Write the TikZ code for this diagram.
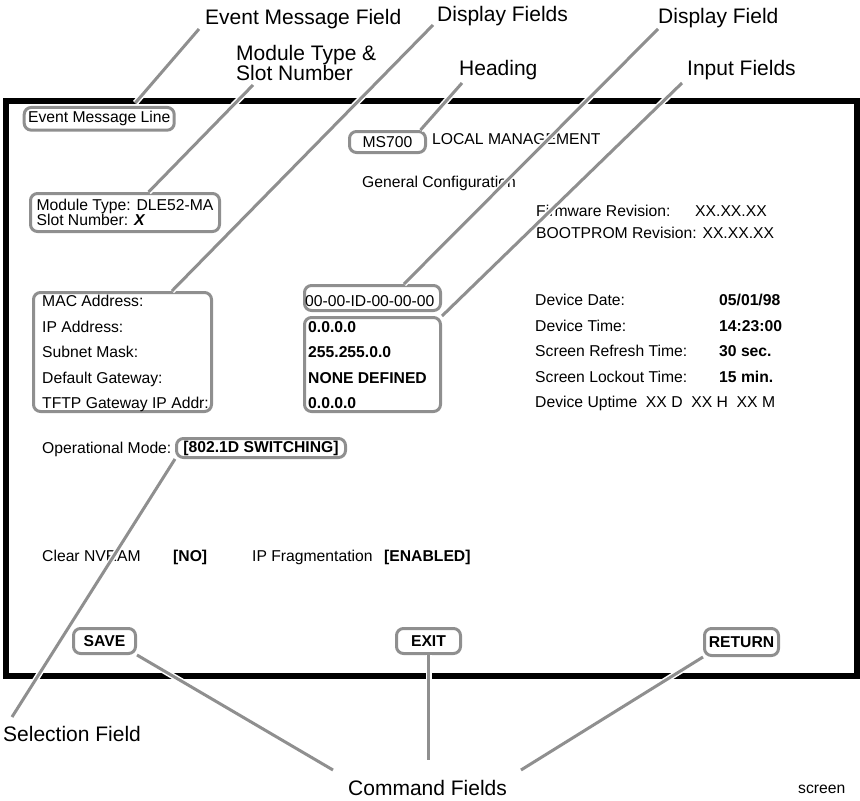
\documentclass[tikz,border=0pt]{standalone}
\usepackage{fontspec}
\setmainfont{Liberation Sans}
\usepackage{tikz}
\usetikzlibrary{positioning}
\definecolor{leadgray}{gray}{0.56}
\newcommand{\scrfont}{\fontsize{15.7}{14}\selectfont}
\newcommand{\tagfont}{\fontsize{21}{20}\selectfont}
\tikzstyle{leader}  =[draw=leadgray, line width=3pt,
                      preaction={draw=white, line width=6pt}]
\tikzstyle{fieldbox}=[draw=leadgray, line width=3pt, rounded corners=7pt,
                      inner sep=0pt, font=\scrfont]
\tikzstyle{scrtext} =[anchor=base west, inner sep=0pt, font=\scrfont]
\tikzstyle{valtext} =[anchor=base west, inner sep=0pt, font=\scrfont\bfseries]
\tikzstyle{tagtext} =[anchor=base west, inner sep=0pt, font=\tagfont]

\begin{document}
\begin{tikzpicture}[x=1pt, y=-1pt]
    \useasboundingbox (0,0) rectangle (860,801);
    % screen frame
    \draw[line width=6pt] (5.5,101) rectangle (857,676);

    % fields on the screen
    \node[fieldbox, minimum width=150pt, minimum height=22.7pt] (evtline) at (99.2,118.8) {Event Message Line};
    \node[fieldbox, minimum width=76pt, minimum height=21pt] (msbox) at (387.5,142) {MS700};
    \node[fieldbox, minimum width=189pt, minimum height=38pt, align=left] (modbox) at (125,212.5)
        {Module Type: DLE52-MA\\Slot Number: \textbf{\textit{X}}};
    \node[fieldbox, minimum width=178pt, minimum height=119pt] (macbox) at (122.5,352) {};
    \node[fieldbox, minimum width=136pt, minimum height=25pt] (macval) at (372.5,298) {};
    \node[fieldbox, minimum width=136pt, minimum height=94pt] (inbox) at (372.5,364.5) {};
    \node[fieldbox, minimum width=169pt, minimum height=19pt, font=\scrfont\bfseries] (opbox) at (261,448) {[802.1D SWITCHING]};
    \node[fieldbox, minimum width=62pt, minimum height=25pt, font=\scrfont\bfseries] (savebox) at (104.5,641) {SAVE};
    \node[fieldbox, minimum width=64pt, minimum height=25pt, font=\scrfont\bfseries] (exitbox) at (428.5,641) {EXIT};
    \node[fieldbox, minimum width=74pt, minimum height=27pt, font=\scrfont\bfseries] (retbox) at (741.5,642) {RETURN};

    % screen text
    \node[scrtext] (lclmgmt) at (432,144) {LOCAL MANAGEMENT};
    \node[scrtext] (gencfg) at (362,187) {General Configuration};
    \node[scrtext] (fwrev) at (536,216.5) {Firmware Revision:};
    \node[scrtext] (fwval) at (695,216.5) {XX.XX.XX};
    \node[scrtext] (bootrev) at (536,238) {BOOTPROM Revision: XX.XX.XX};

    \node[scrtext] (maclbl) at (42,306.7) {MAC Address:};
    \node[scrtext] (iplbl) at (42,332.2) {IP Address:};
    \node[scrtext] (masklbl) at (42,357.7) {Subnet Mask:};
    \node[scrtext] (gwlbl) at (42,383.2) {Default Gateway:};
    \node[scrtext] (tftplbl) at (42,408.7) {TFTP Gateway IP Addr:};

    \node[scrtext] (macnum) at (305,306.7) {00-00-ID-00-00-00};
    \node[valtext] (ipval) at (308,332.2) {0.0.0.0};
    \node[valtext] (maskval) at (308,357.7) {255.255.0.0};
    \node[valtext] (gwval) at (308,383.2) {NONE DEFINED};
    \node[valtext] (tftpval) at (308,408.7) {0.0.0.0};

    \node[scrtext] (datelbl) at (535,305.5) {Device Date:};
    \node[scrtext] (timelbl) at (535,331) {Device Time:};
    \node[scrtext] (refrlbl) at (535,356.5) {Screen Refresh Time:};
    \node[scrtext] (locklbl) at (535,382) {Screen Lockout Time:};
    \node[scrtext] (uplbl) at (535,407.5) {Device Uptime\ \ XX D\ \ XX H\ \ XX M};
    \node[valtext] (dateval) at (719,305.5) {05/01/98};
    \node[valtext] (timeval) at (719,331) {14:23:00};
    \node[valtext] (refrval) at (719,356.5) {30 sec.};
    \node[valtext] (lockval) at (719,382) {15 min.};

    \node[scrtext] (oplbl) at (42,453.3) {Operational Mode:};
    \node[scrtext] (nvlbl) at (42,561.7) {Clear NVRAM};
    \node[valtext] (nvval) at (173,561.7) {[NO]};
    \node[scrtext] (fraglbl) at (252,561.7) {IP Fragmentation};
    \node[valtext] (fragval) at (384,561.7) {[ENABLED]};

    % labels round the screen
    \node[tagtext] (evttag) at (205,24) {Event Message Field};
    \node[tagtext] (disptag) at (437,21.7) {Display Fields};
    \node[tagtext] (onetag) at (658,23.3) {Display Field};
    \node[tagtext] (modtag) at (236,60) {Module Type \&};
    \node[tagtext] (slottag) at (236,80) {Slot Number};
    \node[tagtext] (headtag) at (459,75) {Heading};
    \node[tagtext] (inputtag) at (687,75) {Input Fields};
    \node[tagtext] (seltag) at (3,741.7) {Selection Field};
    \node[tagtext] (cmdtag) at (348,795) {Command Fields};
    \node[scrtext] (scrtag) at (798,793) {screen};

    % leader ends
    \coordinate (evtfoot) at (199,29);
    \coordinate (modfoot) at (253,85);
    \coordinate (dispfoot) at (433,25);
    \coordinate (headfoot) at (462,83);
    \coordinate (onefoot) at (658,29);
    \coordinate (inputfoot) at (682,83);
    \coordinate (selfoot) at (12,717);
    \coordinate (savefoot) at (333,770);
    \coordinate (exitfoot) at (428.5,760);
    \coordinate (retfoot) at (521,770);

    % leaders
    \draw[leader, shorten >=4pt] (evtfoot) -- (evtline.21);
    \draw[leader] (modfoot) -- (modbox.41);
    \draw[leader] (dispfoot) -- (macbox.51);
    \draw[leader] (headfoot) -- (msbox.20);
    \draw[leader] (onefoot) -- (macval.24);
    \draw[leader] (inputfoot) -- (inbox.north east);
    \draw[leader] (opbox.south west) -- (selfoot);
    \draw[leader] (savebox.south east) -- (savefoot);
    \draw[leader] (exitbox.south) -- (exitfoot);
    \draw[leader] (retbox.south west) -- (retfoot);
\end{tikzpicture}
\end{document}
